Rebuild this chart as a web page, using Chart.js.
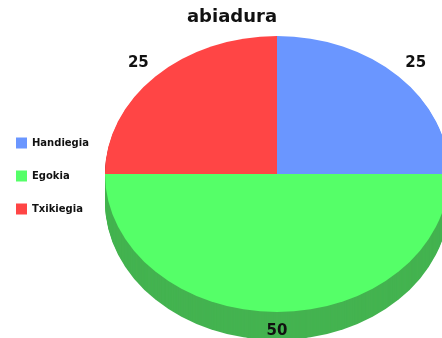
<!DOCTYPE html>
<html>
<head>
<meta charset="utf-8">
<script src="https://cdn.jsdelivr.net/npm/chart.js@4.4.1/dist/chart.umd.min.js"></script>
<style>
  html, body { margin: 0; padding: 0; background: #fff; }
  #wrap { width: 442px; height: 338px; position: relative; }
</style>
</head>
<body>
<div id="wrap"><canvas id="speedChart"></canvas></div>
<script>
const chartTitle = 'abiadura';
const categories = ['Handiegia', 'Egokia', 'Txikiegia'];
const values = [25, 50, 25];
const topColors = ['#6a96ff', '#55ff68', '#ff4545'];
const sideColors = ['#4a6fc4', '#44b350', '#c43535'];

// where the flattened pie sits on the canvas
const pieCenter = { x: 277, y: 174 };
const pieRadius = { x: 172, y: 138 };
const pieDepth = 28;
const labelFactor = 1.14;

function ellipseTransform(ctx, arc, dy) {
    ctx.translate(pieCenter.x, pieCenter.y + dy);
    ctx.scale(pieRadius.x / arc.outerRadius, pieRadius.y / arc.outerRadius);
    ctx.translate(-arc.x, -arc.y);
}

function arcPath(ctx, arc) {
    ctx.beginPath();
    ctx.moveTo(arc.x, arc.y);
    ctx.arc(arc.x, arc.y, arc.outerRadius, arc.startAngle, arc.endAngle);
    ctx.closePath();
}

const pie3d = {
    id: 'pie3d',
    beforeDatasetsDraw(chart) {
        const ctx = chart.ctx;
        const arcs = chart.getDatasetMeta(0).data;
        // side wall, stacked layers under the top face
        for (let d = pieDepth; d >= 1; d--) {
            arcs.forEach((arc, i) => {
                ctx.save();
                ellipseTransform(ctx, arc, d);
                arcPath(ctx, arc);
                ctx.fillStyle = sideColors[i];
                ctx.fill();
                ctx.restore();
            });
        }
        ctx.save();
        ellipseTransform(ctx, arcs[0], 0);
    },
    afterDatasetsDraw(chart) {
        const ctx = chart.ctx;
        ctx.restore();
        const arcs = chart.getDatasetMeta(0).data;
        ctx.save();
        ctx.fillStyle = '#111';
        ctx.font = 'bold 15px "DejaVu Sans"';
        ctx.textAlign = 'center';
        ctx.textBaseline = 'middle';
        arcs.forEach((arc, i) => {
            const mid = (arc.startAngle + arc.endAngle) / 2;
            const px = pieCenter.x + Math.cos(mid) * pieRadius.x * labelFactor;
            const py = pieCenter.y + Math.sin(mid) * pieRadius.y * labelFactor;
            ctx.fillText(String(chart.data.datasets[0].data[i]), px, py);
        });
        // title
        ctx.font = 'bold 18px "DejaVu Sans"';
        ctx.fillText(chartTitle, 232, 17);
        ctx.restore();
    }
};

const ctx = document.getElementById('speedChart').getContext('2d');
new Chart(ctx, {
    type: 'pie',
    data: {
        labels: categories,
        datasets: [{
            data: values,
            backgroundColor: topColors,
            borderWidth: 0
        }]
    },
    options: {
        responsive: true,
        maintainAspectRatio: false,
        animation: false,
        layout: { padding: { top: 14, left: -6 } },
        plugins: {
            legend: {
                position: 'left',
                labels: {
                    boxWidth: 11,
                    boxHeight: 11,
                    padding: 22,
                    color: '#111',
                    font: { family: 'DejaVu Sans', size: 10, weight: 'bold' }
                }
            },
            title: { display: false },
            tooltip: { enabled: false }
        }
    },
    plugins: [pie3d]
});
</script>
</body>
</html>
